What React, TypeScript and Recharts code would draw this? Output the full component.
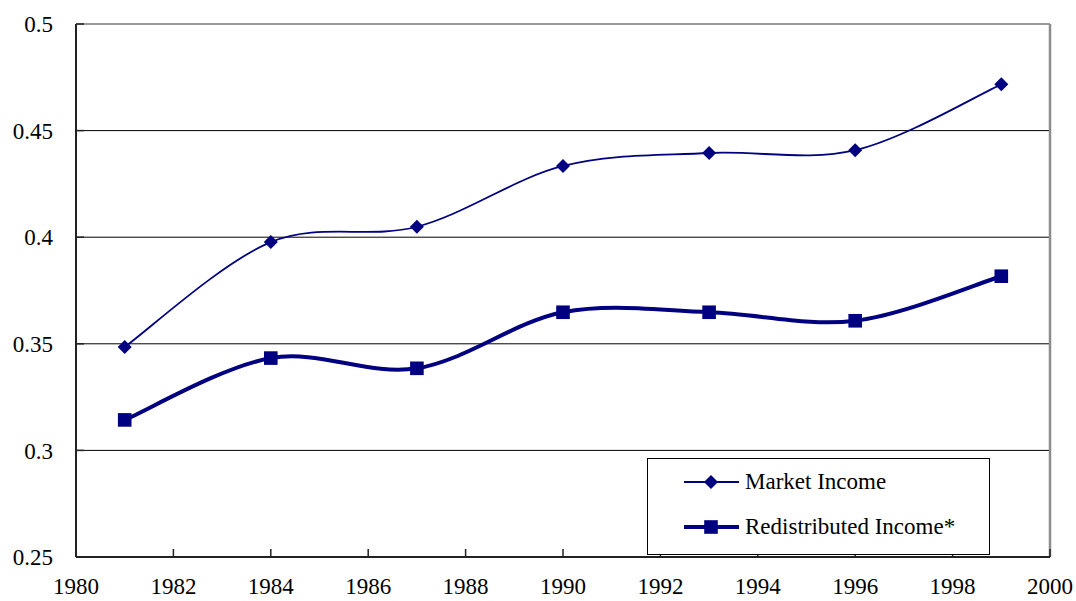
import React from 'react';
import {
  LineChart,
  Line,
  XAxis,
  YAxis,
  CartesianGrid,
  ReferenceLine,
  Legend,
} from 'recharts';

const years = [1981, 1984, 1987, 1990, 1993, 1996, 1999];
const marketIncome = [0.3485, 0.3977, 0.4049, 0.4334, 0.4395, 0.4408, 0.4717];
const redistributedIncome = [0.3143, 0.3433, 0.3385, 0.3648, 0.3648, 0.3608, 0.3817];

const xTicks = [1980, 1982, 1984, 1986, 1988, 1990, 1992, 1994, 1996, 1998, 2000];
const yTicks = [0.25, 0.3, 0.35, 0.4, 0.45, 0.5];
const yTickLabels = ['0.25', '0.3', '0.35', '0.4', '0.45', '0.5'];

const NAVY = '#000080';
const FONT = 'Liberation Serif, DejaVu Serif, serif';

const data = years.map((year, i) => ({
  year,
  market: marketIncome[i],
  redistributed: redistributedIncome[i],
}));

// excel style smoothed line (catmull-rom like bezier)
class ExcelSmooth {
  _context: any;
  _pts: number[][] = [];
  constructor(context: any) {
    this._context = context;
  }
  areaStart() {}
  areaEnd() {}
  lineStart() {
    this._pts = [];
  }
  point(x: number, y: number) {
    this._pts.push([+x, +y]);
  }
  lineEnd() {
    const p = this._pts;
    const ctx = this._context;
    if (!p.length) return;
    ctx.moveTo(p[0][0], p[0][1]);
    for (let i = 0; i < p.length - 1; i++) {
      const p0 = p[i - 1] || p[i];
      const p1 = p[i];
      const p2 = p[i + 1];
      const p3 = p[i + 2] || p[i + 1];
      ctx.bezierCurveTo(
        p1[0] + (p2[0] - p0[0]) / 6,
        p1[1] + (p2[1] - p0[1]) / 6,
        p2[0] - (p3[0] - p1[0]) / 6,
        p2[1] - (p3[1] - p1[1]) / 6,
        p2[0],
        p2[1]
      );
    }
  }
}
const excelSmooth: any = (context: any) => new ExcelSmooth(context);

const Diamond = ({ cx, cy, r = 7 }: any) => (
  <path d={`M${cx},${cy - r}L${cx + r},${cy}L${cx},${cy + r}L${cx - r},${cy}Z`} fill={NAVY} />
);

const Square = ({ cx, cy, s = 6.8 }: any) => (
  <rect x={cx - s} y={cy - s} width={s * 2} height={s * 2} fill={NAVY} />
);

const LegendBox = () => (
  <div
    style={{
      position: 'relative',
      width: 343,
      height: 97,
      boxSizing: 'border-box',
      border: '1px solid #000',
      background: '#fff',
      fontFamily: FONT,
      fontSize: 23,
      color: '#000',
    }}
  >
    <div style={{ position: 'absolute', left: 35, top: 8, height: 30, display: 'flex', alignItems: 'center' }}>
      <svg width={58} height={30}>
        <line x1={1} y1={15} x2={56} y2={15} stroke={NAVY} strokeWidth={1.8} />
        <Diamond cx={28} cy={15} />
      </svg>
      <span style={{ marginLeft: 4, whiteSpace: 'nowrap' }}>Market Income</span>
    </div>
    <div style={{ position: 'absolute', left: 35, top: 53, height: 30, display: 'flex', alignItems: 'center' }}>
      <svg width={58} height={30}>
        <line x1={1} y1={15} x2={56} y2={15} stroke={NAVY} strokeWidth={4} />
        <Square cx={28} cy={15} />
      </svg>
      <span style={{ marginLeft: 4, whiteSpace: 'nowrap' }}>Redistributed Income*</span>
    </div>
  </div>
);

export default function App() {
  return (
    <div style={{ position: 'absolute', left: 0, top: 0, background: '#fff' }}>
      <LineChart
        width={1076}
        height={601}
        data={data}
        margin={{ top: 24, right: 26, bottom: 0, left: 0 }}
        style={{ fontFamily: FONT }}
      >
        <CartesianGrid
          horizontal
          vertical={false}
          horizontalValues={[0.3, 0.35, 0.4, 0.45]}
          stroke="#000"
          strokeWidth={1}
        />
        <ReferenceLine y={0.5} stroke="#9a9a9a" strokeWidth={2} />
        <ReferenceLine x={2000} stroke="#8c8c8c" strokeWidth={2.5} />
        <XAxis
          dataKey="year"
          type="number"
          domain={[1980, 2000]}
          ticks={xTicks}
          interval={0}
          height={44}
          tickSize={-8}
          tickMargin={29}
          axisLine={{ stroke: '#222', strokeWidth: 2 }}
          tickLine={{ stroke: '#222', strokeWidth: 1.5 }}
          tick={{ fill: '#000', fontSize: 23, fontFamily: FONT }}
        />
        <YAxis
          type="number"
          domain={[0.25, 0.5]}
          ticks={yTicks}
          interval={0}
          width={76}
          tickSize={-8}
          tickMargin={31}
          tickFormatter={(v: number) => yTickLabels[yTicks.indexOf(v)] ?? String(v)}
          axisLine={{ stroke: '#222', strokeWidth: 2 }}
          tickLine={{ stroke: '#222', strokeWidth: 1.5 }}
          tick={{ fill: '#000', fontSize: 23, fontFamily: FONT }}
        />
        <Legend
          layout="vertical"
          align="center"
          verticalAlign="middle"
          content={() => <LegendBox />}
          wrapperStyle={{ left: 647, top: 458, width: 343, height: 97 }}
        />
        <Line
          dataKey="market"
          name="Market Income"
          type={excelSmooth}
          stroke={NAVY}
          strokeWidth={1.8}
          isAnimationActive={false}
          dot={(props: any) => <Diamond key={`d-${props.index}`} cx={props.cx} cy={props.cy} />}
          activeDot={false}
        />
        <Line
          dataKey="redistributed"
          name="Redistributed Income*"
          type={excelSmooth}
          stroke={NAVY}
          strokeWidth={4}
          isAnimationActive={false}
          dot={(props: any) => <Square key={`s-${props.index}`} cx={props.cx} cy={props.cy} />}
          activeDot={false}
        />
      </LineChart>
    </div>
  );
}
